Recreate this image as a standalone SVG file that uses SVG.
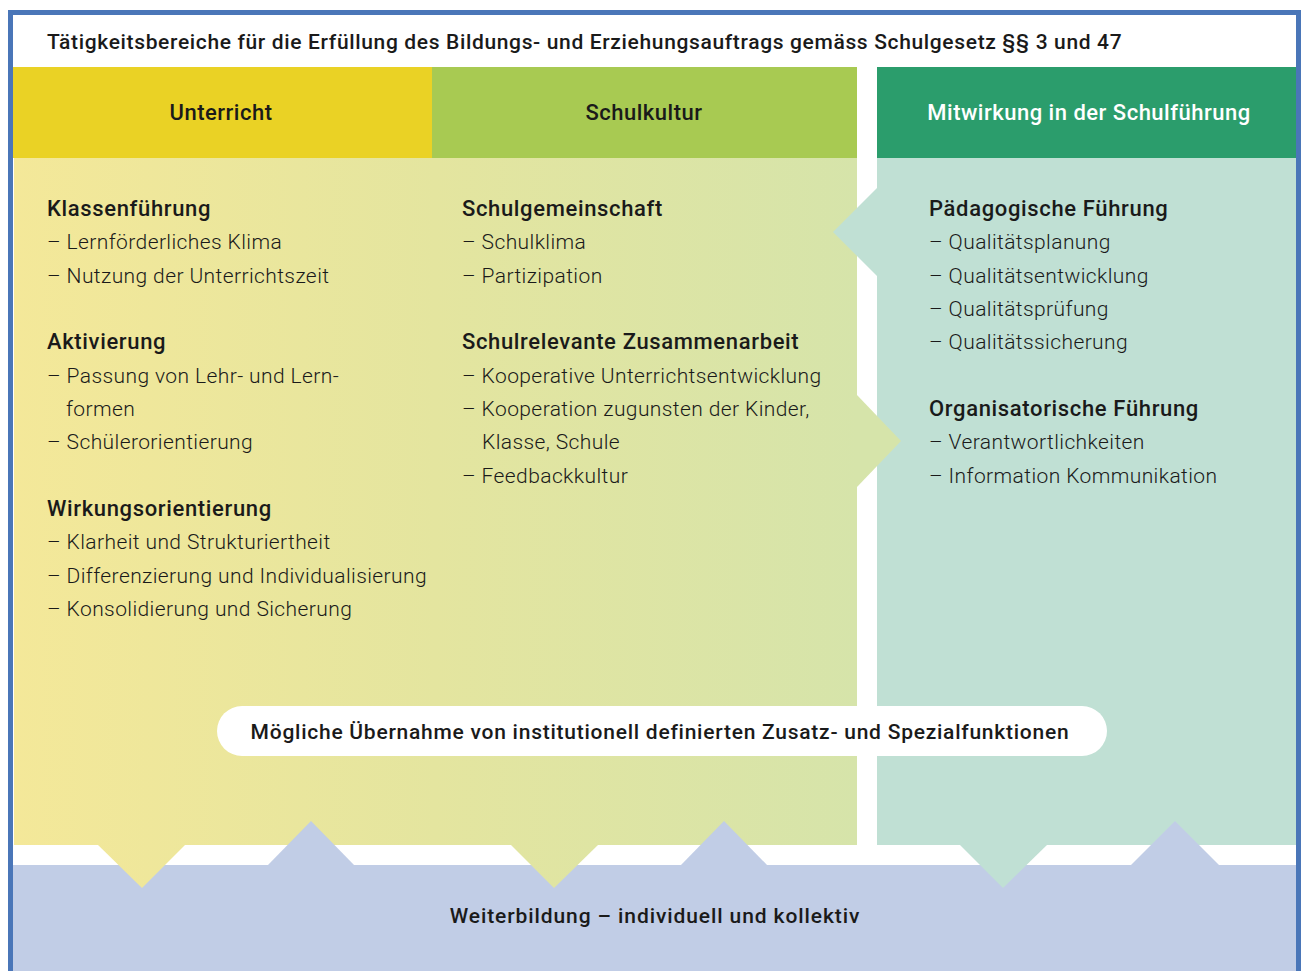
<svg xmlns="http://www.w3.org/2000/svg" width="1307" height="971" viewBox="0 0 1307 971">
  <defs>
    <linearGradient id="warm" gradientUnits="userSpaceOnUse" x1="14" y1="0" x2="857" y2="0">
      <stop offset="0" stop-color="#f4e899"/>
      <stop offset="0.5" stop-color="#e4e59f"/>
      <stop offset="1" stop-color="#d6e4aa"/>
    </linearGradient>
    <style>
      text { font-family: Roboto, "Liberation Sans", sans-serif; fill: #1a1a1a; }
      .title { font-size: 21px; font-weight: 500; letter-spacing: 0.65px; }
      .head { font-size: 22px; font-weight: 500; text-anchor: middle; letter-spacing: 0.5px; }
      .sub { font-size: 22px; font-weight: 500; letter-spacing: 0.65px; }
      .item { font-size: 21px; font-weight: 300; letter-spacing: 0.4px; }
      .pill { font-size: 21px; font-weight: 500; text-anchor: middle; letter-spacing: 0.75px; }
      .band { font-size: 21px; font-weight: 500; text-anchor: middle; letter-spacing: 0.9px; }
      .mint { fill: #c0e0d4; }
      .blue { fill: #c1cde6; }
    </style>
  </defs>

  <rect x="0" y="0" width="1307" height="971" fill="#ffffff"/>

  <!-- title band -->
  <g id="title">
    <text class="title" x="47" y="49">Tätigkeitsbereiche für die Erfüllung des Bildungs- und Erziehungsauftrags gemäss Schulgesetz §§ 3 und 47</text>
  </g>

  <!-- column bodies -->
  <g id="body-unterricht">
    <rect x="14" y="158" width="418" height="687" fill="url(#warm)"/>
  </g>
  <g id="body-schulkultur">
    <rect x="432" y="158" width="425" height="687" fill="url(#warm)"/>
  </g>
  <g id="body-schulfuehrung">
    <rect class="mint" x="877" y="158" width="420" height="687"/>
  </g>

  <!-- continuing education band -->
  <g id="weiterbildung">
    <rect class="blue" x="8" y="865" width="1293" height="106"/>
    <text class="band" x="655" y="923">Weiterbildung – individuell und kollektiv</text>
  </g>

  <!-- links between the areas -->
  <g id="connectors">
    <polygon class="mint" points="877,188 833,232 877,276"/>
    <polygon fill="url(#warm)" points="857,395 901,441 857,487"/>
    <polygon fill="url(#warm)" points="97,844 186,844 142,888"/>
    <polygon fill="url(#warm)" points="510,844 599,844 554,888"/>
    <polygon class="mint" points="959,844 1048,844 1003,888"/>
    <polygon class="blue" points="267,866 311,821 355,866"/>
    <polygon class="blue" points="680,866 724,821 768,866"/>
    <polygon class="blue" points="1130,866 1175,821 1220,866"/>
  </g>

  <!-- column headers -->
  <g id="head-unterricht">
    <rect x="8" y="67" width="424" height="91" fill="#ead225"/>
    <text class="head" x="221" y="120">Unterricht</text>
  </g>
  <g id="head-schulkultur">
    <rect x="432" y="67" width="425" height="91" fill="#a8ca52"/>
    <text class="head" x="644" y="120">Schulkultur</text>
  </g>
  <g id="head-schulfuehrung">
    <rect x="877" y="67" width="420" height="91" fill="#2b9d6c"/>
    <text class="head" x="1089" y="120" style="fill:#ffffff">Mitwirkung in der Schulführung</text>
  </g>

  <!-- column contents -->
  <g id="list-unterricht">
    <text class="sub" x="47" y="216">Klassenführung</text>
    <text class="item" x="47" y="249">– Lernförderliches Klima</text>
    <text class="item" x="47" y="283">– Nutzung der Unterrichtszeit</text>
    <text class="sub" x="47" y="349">Aktivierung</text>
    <text class="item" x="47" y="383">– Passung von Lehr- und Lern-</text>
    <text class="item" x="66" y="416">formen</text>
    <text class="item" x="47" y="449">– Schülerorientierung</text>
    <text class="sub" x="47" y="516">Wirkungsorientierung</text>
    <text class="item" x="47" y="549">– Klarheit und Strukturiertheit</text>
    <text class="item" x="47" y="583">– Differenzierung und Individualisierung</text>
    <text class="item" x="47" y="616">– Konsolidierung und Sicherung</text>
  </g>
  <g id="list-schulkultur">
    <text class="sub" x="462" y="216">Schulgemeinschaft</text>
    <text class="item" x="462" y="249">– Schulklima</text>
    <text class="item" x="462" y="283">– Partizipation</text>
    <text class="sub" x="462" y="349">Schulrelevante Zusammenarbeit</text>
    <text class="item" x="462" y="383">– Kooperative Unterrichtsentwicklung</text>
    <text class="item" x="462" y="416">– Kooperation zugunsten der Kinder,</text>
    <text class="item" x="482" y="449">Klasse, Schule</text>
    <text class="item" x="462" y="483">– Feedbackkultur</text>
  </g>
  <g id="list-schulfuehrung">
    <text class="sub" x="929" y="216">Pädagogische Führung</text>
    <text class="item" x="929" y="249">– Qualitätsplanung</text>
    <text class="item" x="929" y="283">– Qualitätsentwicklung</text>
    <text class="item" x="929" y="316">– Qualitätsprüfung</text>
    <text class="item" x="929" y="349">– Qualitätssicherung</text>
    <text class="sub" x="929" y="416">Organisatorische Führung</text>
    <text class="item" x="929" y="449">– Verantwortlichkeiten</text>
    <text class="item" x="929" y="483">– Information Kommunikation</text>
  </g>

  <!-- special functions -->
  <g id="zusatzfunktionen">
    <rect x="217" y="706" width="890" height="50" rx="25" fill="#ffffff"/>
    <text class="pill" x="660" y="739">Mögliche Übernahme von institutionell definierten Zusatz- und Spezialfunktionen</text>
  </g>

  <!-- outer frame -->
  <path d="M10.5,971 V12.5 H1298.5 V971" fill="none" stroke="#4a76b8" stroke-width="5"/>
</svg>
